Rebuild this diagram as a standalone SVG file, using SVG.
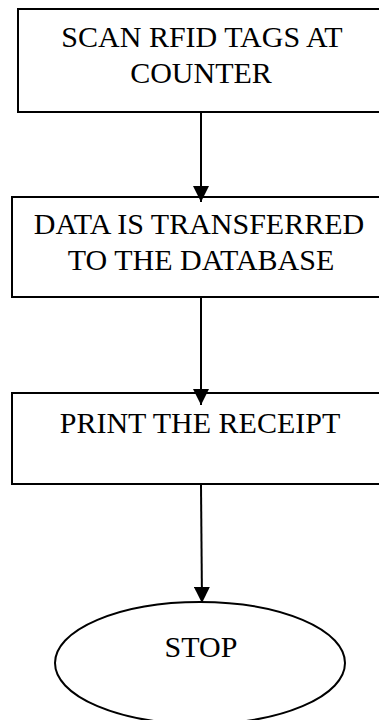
<svg xmlns="http://www.w3.org/2000/svg" width="379" height="720" viewBox="0 0 379 720">
<style>
.box{fill:#fff;stroke:#000;stroke-width:2}
.t{font-family:"Liberation Serif","Times New Roman",serif;font-size:30px;fill:#000;text-anchor:middle}
.c{stroke:#000;stroke-width:2;fill:none}
</style>
<defs>
<marker id="ah" markerUnits="userSpaceOnUse" markerWidth="16" markerHeight="16" refX="16" refY="8" orient="auto" viewBox="0 0 16 16">
<path d="M0,0 L16,8 L0,16 z" fill="#000"/>
</marker>
</defs>
<rect width="379" height="720" fill="#fff"/>
<g id="n1">
<rect class="box" x="18" y="9" width="380" height="103"/>
<text class="t" x="202" y="47">SCAN RFID TAGS AT</text>
<text class="t" x="201" y="83">COUNTER</text>
</g>
<g id="n2">
<rect class="box" x="12" y="197" width="380" height="100"/>
<text class="t" x="199" y="234">DATA IS TRANSFERRED</text>
<text class="t" x="201" y="270">TO THE DATABASE</text>
</g>
<g id="n3">
<rect class="box" x="12" y="393" width="380" height="91"/>
<text class="t" x="200" y="433">PRINT THE RECEIPT</text>
</g>
<g id="n4">
<ellipse class="box" cx="200" cy="663" rx="145" ry="61"/>
<text class="t" x="201" y="657">STOP</text>
</g>
<g id="connectors">
<line class="c" x1="201" y1="113" x2="201" y2="202" marker-end="url(#ah)"/>
<line class="c" x1="201" y1="298" x2="201" y2="405" marker-end="url(#ah)"/>
<line class="c" x1="201" y1="485" x2="202" y2="603" marker-end="url(#ah)"/>
</g>
</svg>
